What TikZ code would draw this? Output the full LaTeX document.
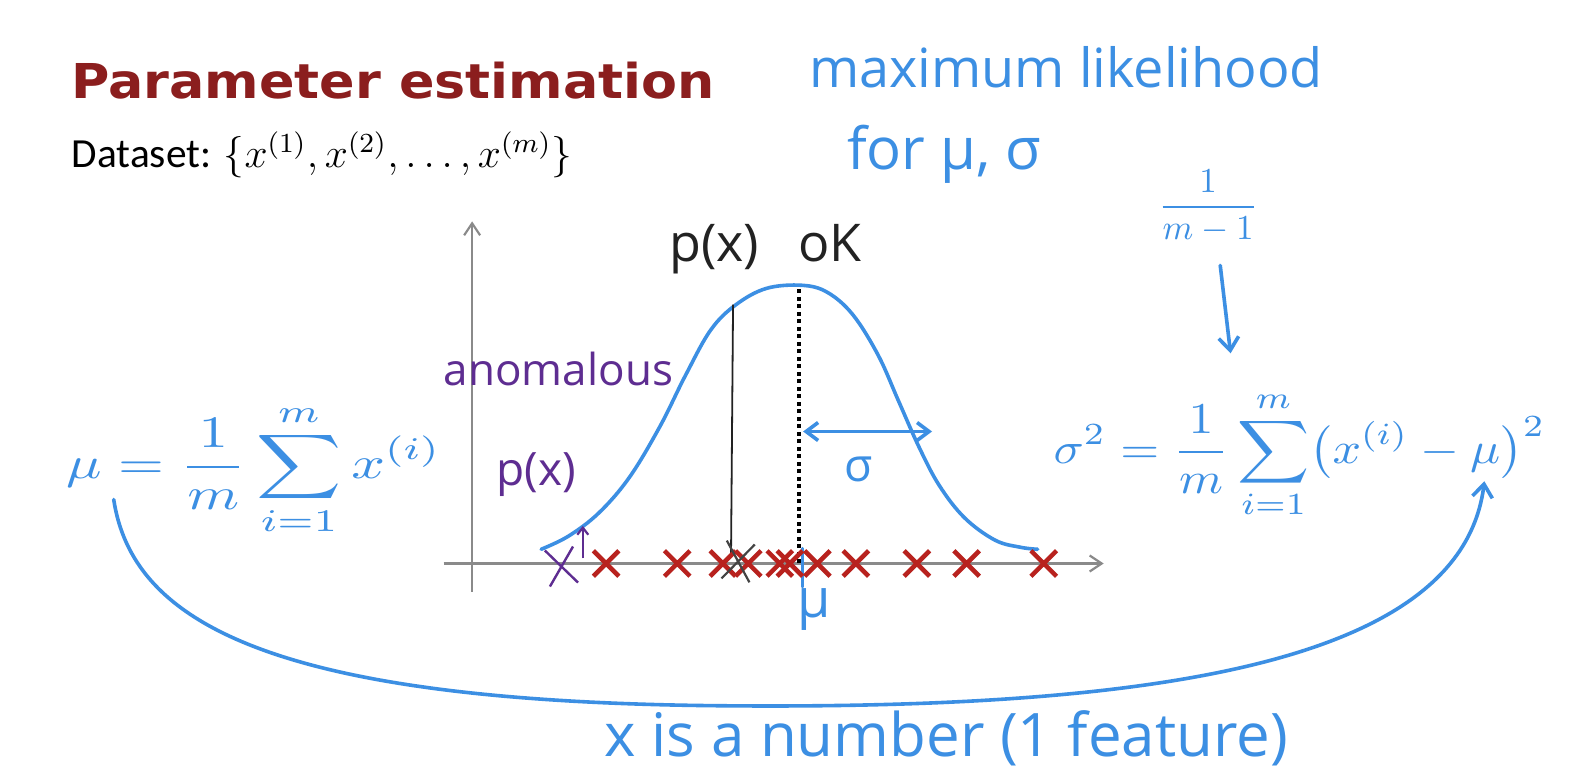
\documentclass[tikz,border=0pt]{standalone}
\usepackage{fontspec}
\usetikzlibrary{arrows.meta,shapes.misc}
\newfontfamily\titlefont{DejaVu Sans}
\newfontfamily\bodyfont{Carlito}
\newfontfamily\handfont{Open Sans}
\definecolor{titlered}{HTML}{8B1E1E}
\definecolor{hblue}{HTML}{3C8FE3}
\definecolor{hpurple}{HTML}{5E2D91}
\definecolor{xred}{HTML}{B8221E}
\definecolor{axisgray}{HTML}{8A8A8A}
\definecolor{hblack}{HTML}{222222}
\tikzset{
  hand/.style={text=hblue, inner sep=0pt},
  hfont/.style={font=\handfont\fontsize{#1}{#1}\selectfont},
  axisline/.style={draw=axisgray, line width=2.2pt, -{Straight Barb[length=12pt,width=16pt]}},
  hline/.style={draw=hblue, line width=3.6pt, line cap=round, line join=round},
  harrow/.style={hline, -{Straight Barb[length=13pt,width=20pt]}},
  redx/.style={cross out, draw=xred, line width=4.5pt, minimum size=21pt, inner sep=0pt},
}
\begin{document}
\begin{tikzpicture}[x=1.015pt,y=-1.015pt]
\useasboundingbox (0,0) rectangle (1568,766);
\fill[white] (0,0) rectangle (1568,766);

% title and dataset
\node[anchor=base west, inner sep=0pt, text=titlered, xscale=1.09,
      font=\titlefont\bfseries\fontsize{48}{50}\selectfont] (title) at (70,97) {Parameter estimation};
\node[anchor=base west, inner sep=0pt, scale=3.45,
      font=\bodyfont\fontsize{12}{14}\selectfont] (dataset) at (70,165)
  {Dataset: $\{x^{(1)},x^{(2)},\ldots,x^{(m)}\}$};

% handwritten headings
\node[hand, hfont=54, anchor=base] (ml) at (1050,86) {maximum likelihood};
\node[hand, hfont=58, anchor=base] (formusig) at (930,167) {for μ, σ};

% axes
\coordinate (vbot) at (465,583);
\coordinate (vtop) at (465,218);
\coordinate (hleft) at (437,555);
\coordinate (hright) at (1087,555);
\draw[axisline] (vbot) -- (vtop);
\draw[axisline] (hleft) -- (hright);

% bell curve
\draw[hline] plot[smooth, tension=0.6] coordinates {(533,541) (560,528) (590,505) (620,470) (650,420) (675,370) (700,325) (725,300) (755,284) (790,281) (815,288) (840,310) (865,350) (885,395) (905,440) (925,478) (950,510) (980,532) (1005,539) (1022,541)};

% vertical lines
\coordinate (blktop) at (722,300);
\coordinate (blkbot) at (720,546);
\draw[hblack, line width=1.8pt] (blktop) -- (blkbot);
\coordinate (dottop) at (787,285);
\coordinate (dotbot) at (787,555);
\draw[black, line width=4.5pt, dash pattern=on 4pt off 3.5pt] (dottop) -- (dotbot);
\coordinate (mutick1) at (790,540);
\coordinate (mutick2) at (790,578);
\draw[hline, line width=2.8pt] (mutick1) -- (mutick2);

% sigma arrow
\coordinate (sigL) at (791,425);
\coordinate (sigR) at (918,425);
\draw[hline, {Straight Barb[length=12pt,width=18pt]}-{Straight Barb[length=12pt,width=18pt]}] (sigL) -- (sigR);
\node[hand, hfont=46] (siglab) at (846,462) {σ};

% data crosses
\foreach \i/\xx in {1/597,2/667,3/712,4/737,5/768,6/778,7/805,8/843,9/903,10/952,11/1028}{
  \node[redx] (dx\i) at (\xx,555) {};
}
\node[cross out, draw=hblack!85, line width=2.2pt, minimum width=26pt, minimum height=36pt, rotate=-8] (bx) at (727,553) {};
\node[cross out, draw=hpurple, line width=2.4pt, minimum width=26pt, minimum height=34pt, rotate=8] (px) at (553,558) {};
\coordinate (pa1) at (574,550);
\coordinate (pa2) at (574,518);
\draw[draw=hpurple, line width=2.2pt, -{Straight Barb[length=7pt,width=11pt]}] (pa1) -- (pa2);

% labels near curve
\node[hand, text=hblack, hfont=52, anchor=base] (pxok) at (754,258) {p(x)\hspace{0.75em}oK};
\node[hand, text=hpurple, hfont=44, anchor=base] (anom) at (550,380) {anomalous};
\node[hand, text=hpurple, hfont=46, anchor=base] (ppx) at (528,478) {p(x)};
\node[hand, hfont=54] (mulab) at (802,600) {μ};

% formulas
\node[hand, xscale=5.9, yscale=4.5] (mufor) at (250,463) {$\displaystyle \mu=\frac{1}{m}\sum_{i=1}^{m}x^{(i)}$};
\node[hand, xscale=5.0, yscale=4.4] (sigfor) at (1280,448) {$\displaystyle \sigma^2=\frac{1}{m}\sum_{i=1}^{m}\bigl(x^{(i)}-\mu\bigr)^2$};
\node[hand, scale=3.5] (frac) at (1190,203) {$\displaystyle\frac{1}{m-1}$};
\coordinate (sigtop) at (1212,348);
\draw[harrow] ([xshift=12pt,yshift=-22pt]frac.south) -- (sigtop);

% big connecting curve
\coordinate (mustart) at (112,492);
\coordinate (muend) at (1462,474);
\draw[harrow] (mustart) .. controls (130,610) and (260,690) .. (700,695)
  .. controls (1150,700) and (1440,650) .. (muend);

\node[hand, hfont=60, anchor=base] (xnum) at (932,745) {x is a number (1 feature)};
\end{tikzpicture}
\end{document}
